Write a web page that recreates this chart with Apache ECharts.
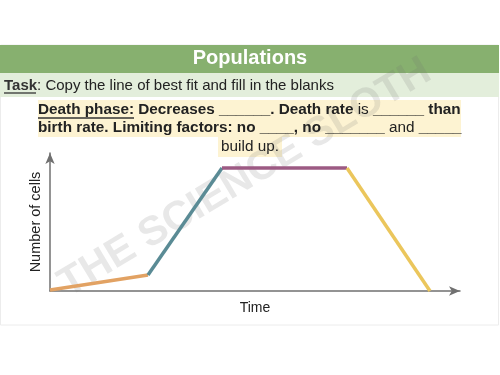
<!DOCTYPE html>
<html>
<head>
<meta charset="utf-8">
<script src="https://cdn.jsdelivr.net/npm/echarts@6/dist/echarts.min.js"></script>
<style>html,body{margin:0;padding:0;background:#fff}#c{width:500px;height:375px}</style>
</head>
<body>
<div id="c"></div>
<script>
// Data
const timeValues = [0, 9.8, 17.2, 29.7, 38.0];
const cellValues = [0.1, 1.6, 12.3, 12.3, 0];
const phaseNames = ['Lag', 'Log', 'Stationary', 'Death'];
const phaseColors = ['#e2a263', '#5a8b95', '#9c5a83', '#ebc65c'];
const titleText = 'Populations';
const xAxisName = 'Time';
const yAxisName = 'Number of cells';

const series = phaseNames.map((n, i) => ({
  name: n,
  type: 'line',
  data: [[timeValues[i], cellValues[i]], [timeValues[i + 1], cellValues[i + 1]]],
  symbol: 'none',
  lineStyle: { color: phaseColors[i], width: 3.5 },
  z: 5
}));

const chart = echarts.init(document.getElementById('c'), null, { renderer: 'canvas' });
const F = '"Liberation Sans", Arial, Helvetica, sans-serif';
const FS = 15.3;
chart.setOption({
  animation: false,
  backgroundColor: '#ffffff',
  grid: { left: 50, right: 40, top: 153, bottom: 84 },
  xAxis: {
    type: 'value', min: 0, max: 41,
    axisLine: { show: true, lineStyle: { color: '#707070', width: 1.5 }, symbol: ['none', 'arrow'], symbolSize: [7, 11] },
    axisTick: { show: false }, axisLabel: { show: false }, splitLine: { show: false },
    name: xAxisName, nameLocation: 'middle', nameGap: 10,
    nameTextStyle: { fontFamily: F, fontSize: 14, color: '#222' }
  },
  yAxis: {
    type: 'value', min: 0, max: 13.8,
    axisLine: { show: true, lineStyle: { color: '#707070', width: 1.5 }, symbol: ['none', 'arrow'], symbolSize: [7, 11] },
    axisTick: { show: false }, axisLabel: { show: false }, splitLine: { show: false },
    name: yAxisName, nameLocation: 'middle', nameGap: 7,
    nameTextStyle: { fontFamily: F, fontSize: 14.5, color: '#222' }
  },
  series: series,
  graphic: [
    // slide frame
    { type: 'rect', z: -10, shape: { x: 0.5, y: 45, width: 498, height: 280 }, style: { fill: '#fff', stroke: '#ececec', lineWidth: 1 } },
    // header band
    { type: 'rect', z: -5, shape: { x: 0, y: 45, width: 499, height: 28 }, style: { fill: '#87b06f' } },
    { type: 'text', z: 10, left: 'center', top: 48, style: { text: titleText, fontFamily: F, fontSize: 20, fontWeight: 'bold', fill: '#ffffff' } },
    // task row
    { type: 'rect', z: -5, shape: { x: 0, y: 73, width: 499, height: 24 }, style: { fill: '#e3eedb' } },
    { type: 'text', z: 10, left: 4, top: 78, style: {
      text: '{u|Task}{n|: Copy the line of best fit and fill in the blanks}',
      rich: { u: { fontFamily: F, fontSize: 15, fontWeight: 'bold', fill: '#333' }, n: { fontFamily: F, fontSize: 15, fill: '#222' } }
    } },
    { type: 'line', z: 10, shape: { x1: 4, y1: 93, x2: 36, y2: 93 }, style: { stroke: '#333', lineWidth: 1.3 } },
    // highlight boxes
    { type: 'rect', z: -5, shape: { x: 38, y: 100, width: 423, height: 37 }, style: { fill: '#fdf3d2' } },
    { type: 'rect', z: -5, shape: { x: 218, y: 137, width: 64, height: 20 }, style: { fill: '#fdf3d2' } },
    { type: 'text', z: 10, left: 38, top: 102, style: {
      text: '{b|Death phase:}{b| Decreases ______. Death rate }{n|is}{b| ______ than}',
      rich: { b: { fontFamily: F, fontSize: FS, fontWeight: 'bold', fill: '#222' }, n: { fontFamily: F, fontSize: FS, fill: '#222' } }
    } },
    { type: 'line', z: 10, shape: { x1: 38, y1: 118, x2: 134, y2: 118 }, style: { stroke: '#333', lineWidth: 1.3 } },
    { type: 'text', z: 10, left: 38, top: 120, style: {
      text: '{b|birth rate. Limiting factors: no ____, no _______ }{n|and}{b| _____}',
      rich: { b: { fontFamily: F, fontSize: FS, fontWeight: 'bold', fill: '#222' }, n: { fontFamily: F, fontSize: FS, fill: '#222' } }
    } },
    { type: 'text', z: 10, left: 'center', top: 139, style: { text: 'build up.', fontFamily: F, fontSize: FS, fill: '#222' } },
    // watermark
    { type: 'text', z: -1, x: 245, y: 178, rotation: Math.PI * 31 / 180,
      style: { text: 'THE SCIENCE SLOTH', fontFamily: F, fontSize: 41, fontWeight: 'bold', fill: 'rgba(110,110,110,0.16)', align: 'center', verticalAlign: 'middle' } }
  ]
});
</script>
</body>
</html>
